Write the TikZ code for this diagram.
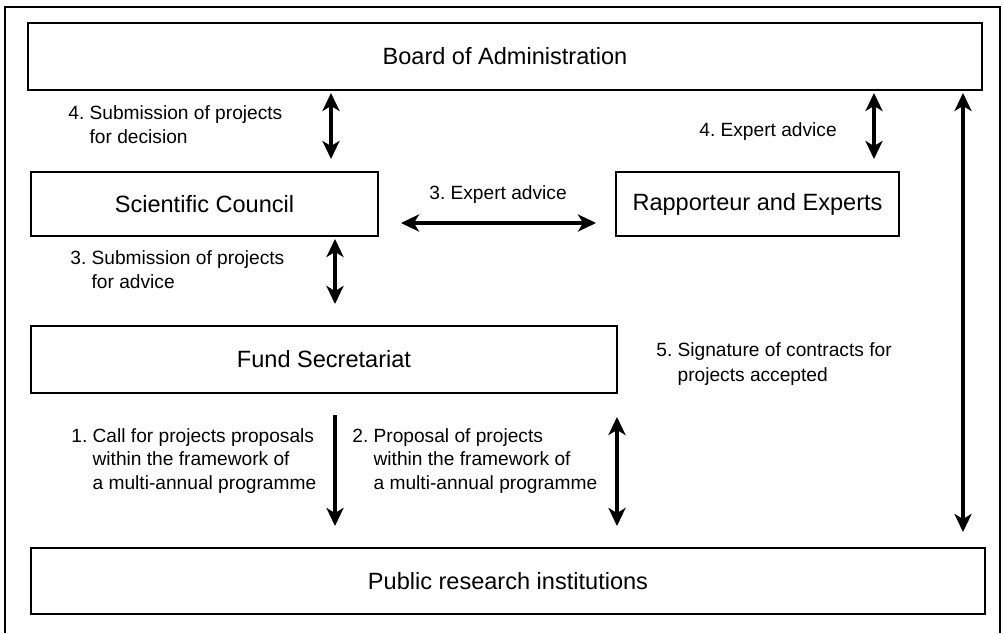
\documentclass[tikz,border=0pt]{standalone}
\usepackage{fontspec}
\setmainfont{Liberation Sans}
\usetikzlibrary{arrows.meta, positioning}

\tikzset{
    unit/.style={draw, line width=1.1pt, inner sep=0pt,
                 font=\fontsize{13.4}{16}\selectfont},
    note/.style={font=\fontsize{10.9}{13.1}\selectfont, align=left,
                 inner sep=0pt, anchor=base west},
    both/.style={<->, line width=2pt},
    oneway/.style={->, line width=2pt},
}

\begin{document}
\begin{tikzpicture}[>={Stealth[length=0.36cm, width=0.34cm, inset=0.1cm]}]

\useasboundingbox (0, 0) rectangle (20.06, 12.66);

% frame, open at the bottom
\draw[line width=1.1pt] (0.1, 0) -- (0.1, 12.52) -- (20.0, 12.52) -- (20.0, 0);

% ── bodies ─────────────────────────────────────────────────────────
\node[unit, minimum width=19.08cm, minimum height=1.34cm] (board) at (10.1, 11.53)
    {Board of Administration};
\node[unit, minimum width=6.94cm, minimum height=1.28cm] (council) at (4.09, 8.58)
    {Scientific Council};
\node[unit, minimum width=5.66cm, minimum height=1.28cm] (experts) at (15.15, 8.58)
    {Rapporteur and Experts};
\node[unit, minimum width=11.72cm, minimum height=1.34cm] (secretariat) at (6.48, 5.47)
    {Fund Secretariat};
\node[unit, minimum width=19.08cm, minimum height=1.32cm] (institutions) at (10.16, 1.04)
    {Public research institutions};

% x (or y) of each connector
\coordinate (xdecide) at (6.62, 0);
\coordinate (xadvice) at (17.48, 0);
\coordinate (xsign)   at (19.26, 0);
\coordinate (xsubmit) at (6.7, 0);
\coordinate (xpropose) at (12.34, 0);
\coordinate (yexpert) at (0, 8.2);

% ── connectors ─────────────────────────────────────────────────────
\draw[both, shorten <=0.24cm, shorten >=0.04cm]
    (xdecide |- council.north) -- (xdecide |- board.south);
\draw[both, shorten <=0.24cm, shorten >=0.04cm]
    (xadvice |- experts.north) -- (xadvice |- board.south);
\draw[both, shorten <=0.44cm, shorten >=0.38cm]
    (council.east |- yexpert) -- (experts.west |- yexpert);
\draw[both, shorten <=0.3cm, shorten >=0.04cm]
    (xsign |- institutions.north) -- (xsign |- board.south);
\draw[both, shorten <=0.42cm, shorten >=0.04cm]
    (xsubmit |- secretariat.north) -- (xsubmit |- council.south);
\draw[oneway, shorten <=0.42cm, shorten >=0.42cm]
    (xsubmit |- secretariat.south) -- (xsubmit |- institutions.north);
\draw[both, shorten <=0.46cm, shorten >=0.42cm]
    (xpropose |- secretariat.south) -- (xpropose |- institutions.north);

% ── labels (placed at the baseline of their last line) ─────────────
\node[note] (ldecide) at (1.36, 9.80)
    {4.~Submission of projects\\\phantom{4.~}for decision};
\node[note] (lexpert) at (8.58, 8.68) {3.~Expert advice};
\node[note] (ladvice) at (13.98, 9.94) {4.~Expert advice};
\node[note] (lsubmit) at (1.4, 6.90)
    {3.~Submission of projects\\\phantom{3.~}for advice};
\node[note, font=\fontsize{10.9}{14.2}\selectfont] (lsign) at (13.12, 5.03)
    {5.~Signature of contracts for\\\phantom{5.~}projects accepted};
\node[note] (lcall) at (1.42, 2.88)
    {1.~Call for projects proposals\\\phantom{1.~}within the framework of\\\phantom{1.~}a multi-annual programme};
\node[note] (lpropose) at (7.04, 2.88)
    {2.~Proposal of projects\\\phantom{2.~}within the framework of\\\phantom{2.~}a multi-annual programme};

\end{tikzpicture}
\end{document}
